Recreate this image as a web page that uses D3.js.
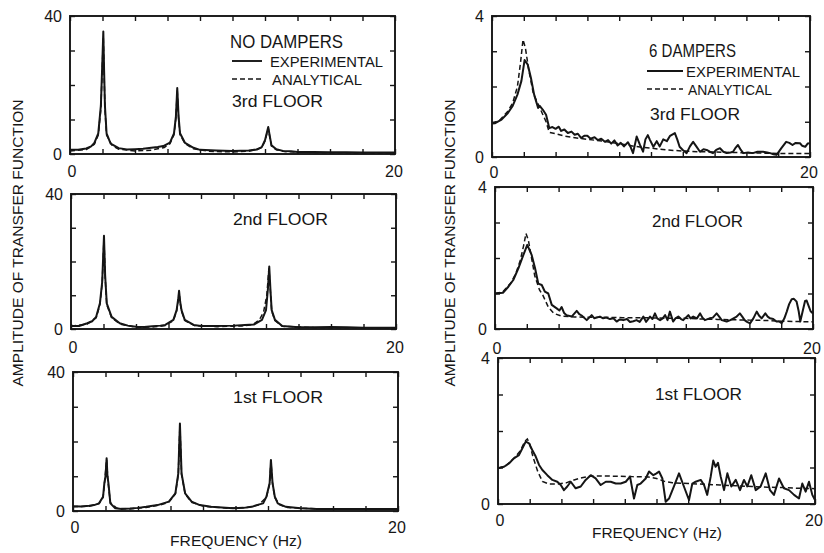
<!DOCTYPE html>
<html><head><meta charset="utf-8">
<script src="https://cdn.jsdelivr.net/npm/d3@7/dist/d3.min.js"></script>
<style>
body{margin:0;background:#fff}
svg{display:block}
text{font-family:"Liberation Sans",Arial,sans-serif;fill:#161616}
</style>
</head><body>
<svg id="c" width="824" height="553"></svg>
<script>
// ---------- DATA ----------
const freqDomain = [0, 20];
const freqTicks = [0, 2, 4, 6, 8, 10, 12, 14, 16, 18, 20];
const freqTickLabels = ["0", "20"];
const noDamperAmpTicks = [0, 10, 20, 30, 40];
const noDamperAmpLabels = ["0", "40"];
const damperAmpTicks = [0, 1, 2, 3, 4];
const damperAmpLabels = ["0", "4"];
const floorNames = ["3rd FLOOR", "2nd FLOOR", "1st FLOOR"];
const caseNames = ["NO DAMPERS", "6 DAMPERS"];
const seriesNames = ["EXPERIMENTAL", "ANALYTICAL"];
const yAxisTitle = "AMPLITUDE OF TRANSFER FUNCTION";
const xAxisTitle = "FREQUENCY (Hz)";

// No dampers – [frequency Hz, amplitude]
const noDamp3Exp = [[0,1.2],[0.5,1.2],[1.0,1.6],[1.3,2.2],[1.5,3.2],[1.74,6],[1.9,14],[2.0,28],[2.05,35.5],[2.1,24],[2.15,14],[2.25,6],[2.5,3],[3.0,1.7],[3.5,1.3],[4.0,1.4],[4.5,1.5],[5.0,1.8],[5.4,2.0],[5.74,2.3],[6.15,3.3],[6.4,6],[6.52,11],[6.6,19.1],[6.68,11],[6.77,6],[7.08,3.2],[7.6,1.8],[8.0,1.2],[9.0,1.0],[10.0,0.9],[11.0,1.0],[11.5,1.3],[11.8,2],[12.0,4],[12.2,7.8],[12.3,5],[12.4,2.5],[12.7,1.4],[13.1,0.9],[13.6,0.8],[14,0.6],[15,0.6],[16,0.5],[17,0.5],[18,0.4],[19,0.4],[20,0.4]];
const noDamp3Ana = [[0,0.9],[1,1.3],[1.5,2.8],[1.74,5.5],[1.9,13],[2.0,27],[2.05,34],[2.1,23],[2.15,13],[2.25,5.5],[2.6,2.4],[3,1.4],[4,0.9],[5,1.1],[5.8,1.9],[6.15,3.0],[6.4,5.6],[6.52,10.5],[6.6,18.5],[6.68,10.5],[6.77,5.6],[7.08,3.0],[7.6,1.5],[8.5,0.8],[10,0.6],[11,0.8],[11.8,1.8],[12.0,3.8],[12.2,7.5],[12.3,4.8],[12.4,2.3],[12.7,1.2],[13.2,0.7],[15,0.4],[20,0.2]];
const noDamp2Exp = [[0,0.9],[0.5,0.9],[1.0,1.7],[1.3,2.3],[1.55,3.6],[1.78,7.6],[1.92,14],[2.03,27.6],[2.1,16],[2.2,7.6],[2.5,3.6],[3.0,1.7],[3.5,1.0],[4.0,0.7],[4.5,0.6],[5.0,0.8],[5.5,1.0],[5.8,1.2],[6.3,2.7],[6.5,5.6],[6.6,9],[6.65,11.3],[6.72,8],[6.8,5.6],[7.0,2.7],[7.55,1.2],[8.0,0.9],[9.0,0.9],[10.0,1.0],[10.7,1.2],[11.25,1.3],[11.75,2.7],[12.0,5.6],[12.12,12],[12.2,18.5],[12.28,11],[12.35,5.6],[12.55,2.7],[13.0,0.9],[14.0,0.5],[15,0.5],[16,0.6],[17,0.5],[18,0.4],[19,0.4],[20,0.4]];
const noDamp2Ana = [[0,0.8],[1,1.5],[1.55,3.3],[1.78,7.2],[1.92,13.5],[2.03,27],[2.1,15.5],[2.2,7.2],[2.5,3.3],[3,1.5],[4,0.5],[5,0.6],[5.8,1.0],[6.3,2.5],[6.5,5.3],[6.6,8.7],[6.65,11],[6.72,7.7],[6.8,5.3],[7.0,2.5],[7.6,1.0],[9,0.7],[10.5,0.9],[11.2,1.3],[11.6,2.8],[11.85,5.0],[12.05,10],[12.18,18],[12.28,10.5],[12.35,5.3],[12.55,2.5],[13.0,0.8],[15,0.4],[20,0.3]];
const noDamp1Exp = [[0,1.4],[0.5,1.3],[1.0,1.5],[1.3,1.7],[1.6,2.2],[1.85,4.1],[1.93,8],[2.0,10],[2.07,15.2],[2.12,10],[2.18,8],[2.3,2.2],[2.6,0.8],[3.0,0.6],[3.5,0.7],[4.0,0.9],[4.5,1.2],[5.2,1.7],[5.9,2.7],[6.3,5.1],[6.48,10.8],[6.58,25.2],[6.68,10.8],[6.9,5.1],[7.3,2.7],[7.8,1.7],[8.5,1.2],[9.85,0.8],[10.5,0.9],[11.0,1.2],[11.3,1.7],[11.7,2.2],[11.9,4.1],[12.1,8],[12.18,14.7],[12.28,8],[12.42,4.1],[12.6,2.2],[13.1,1.2],[14.0,0.8],[15,0.6],[16,0.6],[17,0.6],[18,0.6],[19,0.6],[20,0.6]];
const noDamp1Ana = [[0,1.2],[1,1.4],[1.6,2.1],[1.85,3.9],[1.95,8.5],[2.07,14.8],[2.15,8.5],[2.3,2.4],[2.7,0.8],[3.5,0.6],[4.5,1.0],[5.5,1.9],[5.9,2.6],[6.3,4.9],[6.48,10.5],[6.58,24.8],[6.68,10.5],[6.9,4.9],[7.3,2.5],[8,1.4],[9.5,0.8],[10.7,1.0],[11.4,1.7],[11.9,3.9],[12.1,7.8],[12.18,14.3],[12.28,7.8],[12.42,3.9],[12.7,1.8],[13.2,1.0],[15,0.6],[20,0.5]];

// 6 dampers – [frequency Hz, amplitude]
const damp3Exp = [[0,0.95],[0.2,0.96],[0.6,1.06],[1.0,1.25],[1.3,1.45],[1.6,1.77],[1.85,2.16],[2.05,2.75],[2.25,2.62],[2.45,2.24],[2.65,1.77],[2.9,1.39],[3.0,1.45],[3.2,1.34],[3.4,1.2],[3.6,0.82],[3.8,0.85],[4.0,0.8],[4.2,0.86],[4.35,0.74],[4.55,0.78],[4.77,0.68],[5.0,0.72],[5.2,0.63],[5.4,0.66],[5.6,0.54],[5.8,0.6],[6.0,0.6],[6.2,0.52],[6.45,0.56],[6.65,0.48],[6.87,0.52],[7.1,0.43],[7.3,0.48],[7.5,0.38],[7.7,0.47],[7.9,0.33],[8.1,0.4],[8.3,0.3],[8.55,0.42],[8.7,0.3],[8.87,0.11],[9.1,0.58],[9.3,0.35],[9.5,0.15],[9.65,0.5],[9.8,0.62],[9.94,0.48],[10.15,0.29],[10.36,0.45],[10.55,0.3],[10.77,0.5],[11.0,0.45],[11.2,0.6],[11.5,0.68],[11.65,0.5],[11.8,0.29],[12.0,0.2],[12.24,0.11],[12.45,0.3],[12.65,0.43],[12.85,0.3],[13.08,0.15],[13.3,0.22],[13.5,0.2],[13.7,0.15],[13.9,0.11],[14.1,0.2],[14.34,0.25],[14.55,0.15],[14.76,0.11],[15.0,0.13],[15.16,0.15],[15.3,0.25],[15.47,0.34],[15.65,0.2],[15.8,0.11],[16.1,0.13],[16.4,0.11],[16.7,0.15],[17.05,0.15],[17.3,0.13],[17.5,0.11],[17.7,0.08],[17.9,0.06],[18.2,0.25],[18.5,0.43],[18.7,0.4],[18.9,0.34],[19.1,0.4],[19.37,0.39],[19.5,0.32],[19.7,0.29],[19.85,0.38],[20,0.39]];
const damp3Ana = [[0,0.95],[0.5,1.05],[1.0,1.3],[1.3,1.53],[1.6,2.0],[1.8,2.7],[1.95,3.33],[2.1,3.1],[2.3,2.5],[2.6,1.8],[3.0,1.4],[3.2,1.2],[3.4,1.0],[3.6,0.7],[4,0.66],[4.5,0.6],[5,0.56],[6,0.5],[7,0.45],[8,0.38],[9,0.3],[10,0.25],[11,0.2],[12,0.17],[13,0.15],[14,0.14],[15,0.13],[16,0.12],[17,0.11],[18,0.1],[19,0.1],[20,0.1]];
const damp2Exp = [[0,1.0],[0.5,1.02],[0.84,1.19],[1.15,1.38],[1.47,1.71],[1.78,2.08],[2.03,2.37],[2.31,2.08],[2.52,1.71],[2.72,1.28],[2.94,1.24],[3.14,1.05],[3.35,1.0],[3.57,0.68],[3.88,0.58],[4.05,0.52],[4.19,0.62],[4.35,0.45],[4.5,0.39],[4.82,0.35],[5.14,0.51],[5.3,0.42],[5.45,0.38],[5.77,0.25],[6.08,0.39],[6.25,0.3],[6.4,0.32],[6.6,0.35],[6.8,0.3],[7.0,0.32],[7.23,0.28],[7.45,0.3],[7.65,0.21],[7.85,0.27],[8.07,0.25],[8.3,0.28],[8.49,0.2],[8.7,0.22],[8.9,0.25],[9.1,0.2],[9.33,0.35],[9.5,0.2],[9.75,0.35],[9.9,0.28],[10.06,0.44],[10.2,0.3],[10.38,0.25],[10.55,0.3],[10.7,0.39],[10.85,0.25],[11.0,0.49],[11.2,0.21],[11.35,0.3],[11.53,0.35],[11.7,0.28],[11.84,0.25],[12.0,0.32],[12.16,0.39],[12.3,0.3],[12.47,0.35],[12.7,0.3],[12.9,0.44],[13.05,0.32],[13.2,0.25],[13.5,0.3],[13.7,0.32],[13.94,0.44],[14.1,0.35],[14.26,0.25],[14.57,0.21],[14.8,0.25],[15.0,0.3],[15.2,0.35],[15.4,0.44],[15.55,0.35],[15.7,0.25],[15.85,0.2],[16.04,0.16],[16.25,0.3],[16.46,0.49],[16.6,0.38],[16.77,0.3],[17.0,0.44],[17.15,0.35],[17.3,0.3],[17.5,0.28],[17.7,0.21],[17.85,0.22],[18.03,0.16],[18.2,0.3],[18.35,0.49],[18.5,0.7],[18.66,0.84],[18.8,0.85],[18.97,0.77],[19.1,0.5],[19.2,0.21],[19.35,0.5],[19.5,0.79],[19.6,0.8],[19.7,0.68],[19.85,0.5],[20,0.44]];
const damp2Ana = [[0,1.0],[0.5,1.05],[1.0,1.3],[1.3,1.55],[1.6,1.95],[1.8,2.35],[1.95,2.69],[2.1,2.5],[2.3,2.0],[2.5,1.5],[2.8,1.1],[3.0,0.96],[3.35,0.62],[3.7,0.44],[4.2,0.36],[5,0.34],[6,0.33],[7,0.33],[8,0.32],[9,0.32],[10,0.31],[11,0.3],[12,0.3],[13,0.28],[14,0.27],[15,0.26],[16,0.25],[17,0.24],[18,0.22],[19,0.21],[20,0.2]];
const damp1Exp = [[0,0.98],[0.38,1.02],[0.69,1.11],[1.0,1.25],[1.32,1.34],[1.53,1.52],[1.75,1.71],[1.96,1.66],[2.16,1.48],[2.38,1.3],[2.59,1.07],[2.8,0.93],[3.11,0.79],[3.43,0.66],[3.74,0.61],[3.96,0.52],[4.16,0.38],[4.37,0.48],[4.59,0.61],[4.9,0.43],[5.22,0.48],[5.53,0.66],[5.85,0.79],[6.16,0.7],[6.48,0.52],[6.8,0.61],[7.11,0.61],[7.43,0.56],[7.74,0.56],[8.06,0.61],[8.33,0.75],[8.58,0.15],[8.79,0.52],[9.0,0.56],[9.32,0.7],[9.53,0.89],[9.8,0.79],[10.0,0.84],[10.16,0.89],[10.37,0.7],[10.58,0.06],[10.79,0.15],[11.1,0.48],[11.42,0.84],[11.73,0.48],[12.05,0.11],[12.26,0.56],[12.47,0.61],[12.79,0.66],[13.0,0.52],[13.2,0.25],[13.42,0.75],[13.58,1.19],[13.73,1.02],[13.88,1.13],[14.05,0.75],[14.26,0.38],[14.47,0.84],[14.72,0.48],[15.0,0.66],[15.27,0.38],[15.52,0.66],[15.73,0.48],[15.98,0.79],[16.26,0.38],[16.57,0.48],[16.89,0.84],[17.16,0.38],[17.41,0.25],[17.73,0.7],[18.04,0.43],[18.36,0.38],[18.68,0.25],[18.99,0.15],[19.2,0.56],[19.41,0.34],[19.62,0.61],[19.83,0.25],[20,0.11]];
const damp1Ana = [[0,0.98],[0.5,1.05],[1.0,1.25],[1.4,1.45],[1.7,1.72],[1.85,1.78],[2.0,1.65],[2.2,1.3],[2.5,0.9],[2.8,0.62],[3.2,0.55],[3.8,0.55],[4.3,0.58],[4.8,0.66],[5.3,0.72],[5.8,0.76],[6.5,0.77],[7.5,0.76],[8.5,0.75],[9.5,0.74],[10,0.7],[10.5,0.62],[11,0.58],[12,0.56],[13,0.54],[14,0.52],[15,0.5],[16,0.48],[17,0.46],[18,0.45],[19,0.43],[20,0.42]];

// ---------- LAYOUT ----------
const panels = [
  {x0:70, x1:395, yt:16,  yb:154, ymax:40, ticks:noDamperAmpTicks, labels:noDamperAmpLabels, exp:noDamp3Exp, ana:noDamp3Ana, floor:floorNames[0], fx:232, fy:107, fw:91, xly:171},
  {x0:71, x1:396, yt:194, yb:329, ymax:40, ticks:noDamperAmpTicks, labels:noDamperAmpLabels, exp:noDamp2Exp, ana:noDamp2Ana, floor:floorNames[1], fx:233, fy:225, fw:95, xly:347},
  {x0:73, x1:398, yt:372, yb:511, ymax:40, ticks:noDamperAmpTicks, labels:noDamperAmpLabels, exp:noDamp1Exp, ana:noDamp1Ana, floor:floorNames[2], fx:233, fy:403, fw:90, xly:527},
  {x0:492, x1:810, yt:16,  yb:157, ymax:4, ticks:damperAmpTicks, labels:damperAmpLabels, exp:damp3Exp, ana:damp3Ana, floor:floorNames[0], fx:650, fy:120, fw:90, xly:172},
  {x0:495, x1:813, yt:187, yb:329, ymax:4, ticks:damperAmpTicks, labels:damperAmpLabels, exp:damp2Exp, ana:damp2Ana, floor:floorNames[1], fx:652, fy:227, fw:91, xly:348},
  {x0:498, x1:815, yt:358, yb:504, ymax:4, ticks:damperAmpTicks, labels:damperAmpLabels, exp:damp1Exp, ana:damp1Ana, floor:floorNames[2], fx:655, fy:400, fw:87, xly:520}
];

const svg = d3.select("#c");
const ink = "#151515";

panels.forEach(p => {
  const x = d3.scaleLinear().domain(freqDomain).range([p.x0, p.x1]);
  const y = d3.scaleLinear().domain([0, p.ymax]).range([p.yb, p.yt]);
  const g = svg.append("g");

  const line = d3.line().x(d => x(d[0])).y(d => y(d[1]));
  g.append("path").datum(p.ana).attr("d", line)
    .attr("fill", "none").attr("stroke", ink).attr("stroke-width", 1.5)
    .attr("stroke-dasharray", "5,3");
  g.append("path").datum(p.exp).attr("d", line)
    .attr("fill", "none").attr("stroke", ink).attr("stroke-width", 2)
    .attr("stroke-linejoin", "round");

  // inner ticks (all four sides) via axes
  const tk = 5;
  g.append("g").attr("transform", `translate(0,${p.yb})`)
    .call(d3.axisTop(x).tickValues(freqTicks).tickSize(tk).tickFormat(""));
  g.append("g").attr("transform", `translate(0,${p.yt})`)
    .call(d3.axisBottom(x).tickValues(freqTicks).tickSize(tk).tickFormat(""));
  g.append("g").attr("transform", `translate(${p.x0},0)`)
    .call(d3.axisRight(y).tickValues(p.ticks).tickSize(tk).tickFormat(""));
  g.append("g").attr("transform", `translate(${p.x1},0)`)
    .call(d3.axisLeft(y).tickValues(p.ticks).tickSize(tk).tickFormat(""));
  g.selectAll(".domain").remove();
  g.selectAll(".tick line").attr("stroke", ink).attr("stroke-width", 1.4);

  // frame
  g.append("rect").attr("x", p.x0).attr("y", p.yt)
    .attr("width", p.x1 - p.x0).attr("height", p.yb - p.yt)
    .attr("fill", "none").attr("stroke", ink).attr("stroke-width", 1.9);

  // tick labels
  [0, p.ymax].forEach((v, i) => {
    g.append("text").attr("x", p.x0 - 8).attr("y", y(v))
      .attr("text-anchor", "end").attr("dominant-baseline", "central")
      .attr("font-size", 16).text(p.labels[i]);
  });
  freqDomain.forEach((v, i) => {
    g.append("text").attr("x", x(v) + (i === 0 ? 2 : -1)).attr("y", p.xly)
      .attr("text-anchor", "middle").attr("dominant-baseline", "central")
      .attr("font-size", 16).text(freqTickLabels[i]);
  });

  // floor label
  g.append("text").attr("x", p.fx).attr("y", p.fy).attr("font-size", 17)
    .attr("textLength", p.fw).attr("lengthAdjust", "spacingAndGlyphs").text(p.floor);
});

// legends
function legend(cx, cy, cw, lx, ly1, ly2, ew, aw, title, tx, tw, tsize) {
  svg.append("text").attr("x", tx).attr("y", cy).attr("font-size", tsize)
    .attr("textLength", tw).attr("lengthAdjust", "spacingAndGlyphs").text(title);
  svg.append("line").attr("x1", cx).attr("x2", cx + cw).attr("y1", ly1 - 6).attr("y2", ly1 - 6)
    .attr("stroke", ink).attr("stroke-width", 1.9);
  svg.append("line").attr("x1", cx).attr("x2", cx + cw).attr("y1", ly2 - 6).attr("y2", ly2 - 6)
    .attr("stroke", ink).attr("stroke-width", 1.3).attr("stroke-dasharray", "5,3");
  svg.append("text").attr("x", lx).attr("y", ly1).attr("font-size", 15)
    .attr("textLength", ew).attr("lengthAdjust", "spacingAndGlyphs").text(seriesNames[0]);
  svg.append("text").attr("x", lx + 2).attr("y", ly2).attr("font-size", 15)
    .attr("textLength", aw).attr("lengthAdjust", "spacingAndGlyphs").text(seriesNames[1]);
}
legend(232, 48, 30, 270, 67, 85, 113, 90, caseNames[0], 230, 113, 18);
legend(647, 57, 36, 686, 77, 95, 114, 84, caseNames[1], 649, 87, 18);

// axis titles
[17, 449].forEach(cx => {
  svg.append("text").attr("transform", `translate(${cx},243) rotate(-90)`)
    .attr("text-anchor", "middle").attr("dominant-baseline", "central")
    .attr("font-size", 15).attr("textLength", 287).attr("lengthAdjust", "spacingAndGlyphs")
    .text(yAxisTitle);
});
svg.append("text").attr("x", 170).attr("y", 546).attr("font-size", 15)
  .attr("textLength", 132).attr("lengthAdjust", "spacingAndGlyphs").text(xAxisTitle);
svg.append("text").attr("x", 592).attr("y", 538).attr("font-size", 15)
  .attr("textLength", 130).attr("lengthAdjust", "spacingAndGlyphs").text(xAxisTitle);
</script>
</body></html>
